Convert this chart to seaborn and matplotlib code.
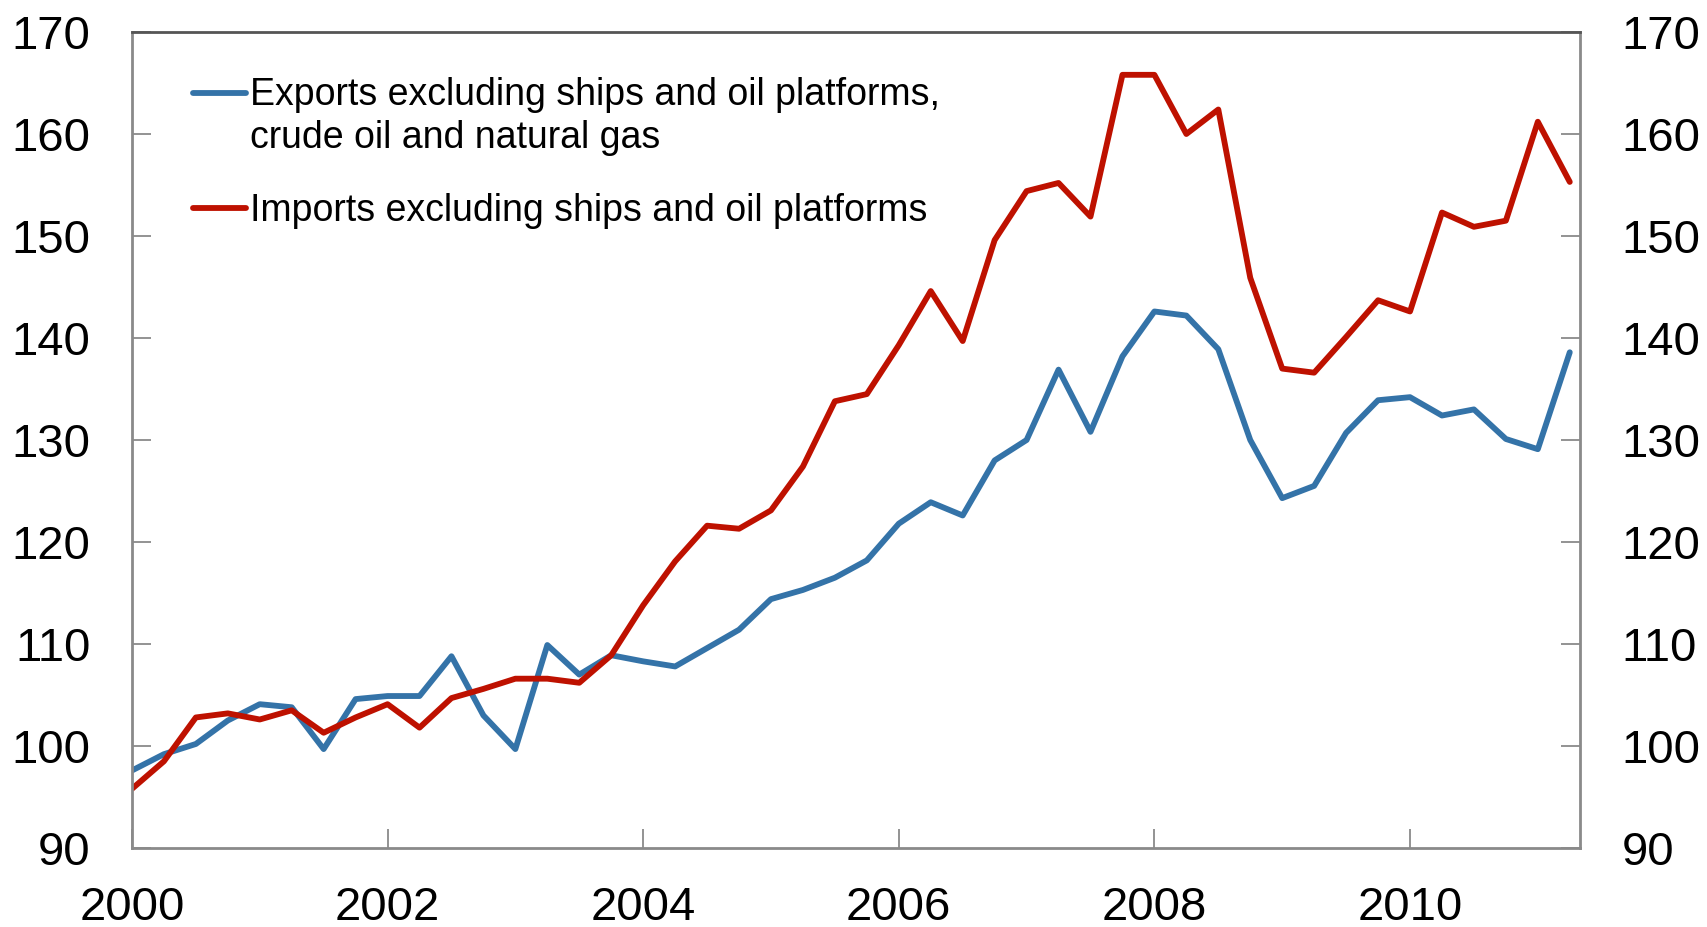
import matplotlib
matplotlib.use("Agg")
import matplotlib.pyplot as plt
from matplotlib.legend_handler import HandlerLine2D
import numpy as np
import pandas as pd
import seaborn as sns

# ---- data -------------------------------------------------------------
quarters = [f"{y}Q{q}" for y in range(2000, 2012) for q in range(1, 5)][:46]

exports = [97.6, 99.2, 100.2, 102.5, 104.1, 103.8, 99.7, 104.6, 104.9, 104.9,
           108.8, 103.0, 99.7, 109.9, 107.0, 108.9, 108.3, 107.8, 109.6, 111.4,
           114.4, 115.3, 116.5, 118.2, 121.8, 123.9, 122.6, 128.0, 130.0, 136.9,
           130.8, 138.2, 142.6, 142.2, 138.9, 130.0, 124.3, 125.5, 130.7, 133.9,
           134.2, 132.4, 133.0, 130.1, 129.1, 138.6]

imports = [95.8, 98.5, 102.8, 103.2, 102.6, 103.5, 101.3, 102.8, 104.1, 101.8,
           104.7, 105.6, 106.6, 106.6, 106.2, 108.9, 113.8, 118.1, 121.6, 121.3,
           123.1, 127.4, 133.8, 134.5, 139.3, 144.6, 139.7, 149.6, 154.4, 155.2,
           151.9, 165.8, 165.8, 160.0, 162.4, 145.9, 137.0, 136.6, 140.1, 143.7,
           142.6, 152.3, 150.9, 151.5, 161.2, 155.3]

label_exports = "Exports excluding ships and oil platforms,\ncrude oil and natural gas"
label_imports = "Imports excluding ships and oil platforms"

x_tick_years = [2000, 2002, 2004, 2006, 2008, 2010]
y_ticks = [90, 100, 110, 120, 130, 140, 150, 160, 170]

blue = "#3473A8"
red = "#BE1100"

# ---- build table --------------------------------------------------------
pos = [int(q[:4]) + (int(q[-1]) - 1) / 4 for q in quarters]
df = pd.DataFrame({
    "x": pos + pos,
    "value": exports + imports,
    "series": [label_exports] * len(exports) + [label_imports] * len(imports),
})

sns.set_theme(style="white")
plt.rcParams["font.family"] = ["Liberation Sans", "DejaVu Sans"]
plt.rcParams["text.color"] = "black"

fig = plt.figure(figsize=(17.07, 9.27), dpi=100)
ax = fig.add_axes([0.0773, 0.0852, 0.8483, 0.8803])

sns.lineplot(data=df, x="x", y="value", hue="series",
             palette=[blue, red], linewidth=4.2, ax=ax)

ax.set_xlim(2000, 2011.33)
ax.set_ylim(90, 170)
ax.set_xticks(x_tick_years)
ax.set_xticklabels([str(y) for y in x_tick_years])
ax.set_yticks(y_ticks)
ax.set_xlabel("")
ax.set_ylabel("")

ax.tick_params(axis="both", direction="in", length=14, width=1.3,
               color="#8a8a8a", labelsize=34, labelcolor="black")
ax.tick_params(axis="y", left=True, right=True, labelleft=True,
               labelright=True, pad=30)
ax.tick_params(axis="x", bottom=True, pad=27)

for side, sp in ax.spines.items():
    sp.set_visible(True)
    sp.set_color("#8a8a8a")
    sp.set_linewidth(2)
ax.spines["top"].set_color("#555555")


class ShiftedLineHandler(HandlerLine2D):
    """Line handle shifted vertically (points) to align with first text line."""
    def __init__(self, dy=0.0, **kw):
        super().__init__(**kw)
        self.dy = dy

    def create_artists(self, legend, orig_handle, xdescent, ydescent,
                       width, height, fontsize, trans):
        arts = super().create_artists(legend, orig_handle, xdescent, ydescent,
                                      width, height, fontsize, trans)
        for a in arts:
            a.set_ydata(np.asarray(a.get_ydata(), dtype=float) + self.dy)
        return arts


handles, labels = ax.get_legend_handles_labels()
fs = 27
leg = ax.legend(handles, labels, loc="upper left",
                bbox_to_anchor=(0.0425, 0.945),
                frameon=False, fontsize=fs, handlelength=1.4,
                handletextpad=0.12, labelspacing=0.97, borderpad=0,
                borderaxespad=0, labelcolor="black",
                handler_map={handles[0]: ShiftedLineHandler(dy=0.6 * fs + 1.5)})
for t in leg.get_texts():
    t.set_linespacing(1.27)
for line in leg.get_lines():
    line.set_linewidth(4.2)

fig.savefig("out.png", dpi=100)
